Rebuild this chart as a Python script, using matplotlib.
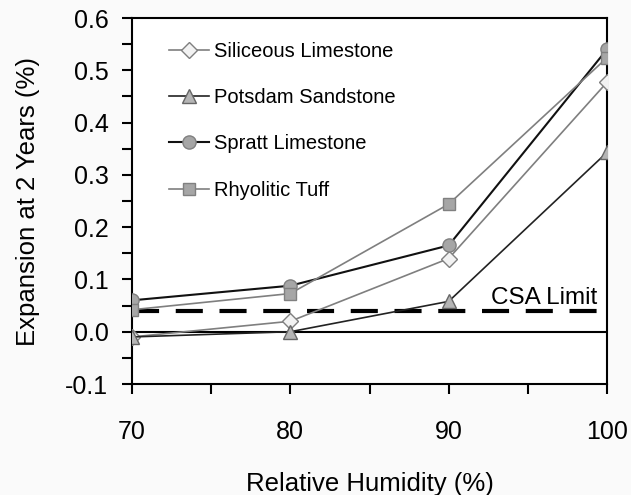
import numpy as np
import matplotlib
matplotlib.use('Agg')
from matplotlib import pyplot as plt

plt.rcParams['font.family'] = ['Liberation Sans', 'DejaVu Sans']

# data
humidity = [70, 80, 90, 100]
siliceous = [-0.01, 0.02, 0.14, 0.477]
potsdam = [-0.01, 0.0, 0.058, 0.343]
spratt = [0.06, 0.088, 0.165, 0.54]
rhyolitic = [0.042, 0.073, 0.244, 0.524]
csa_limit = 0.04

series_names = ['Siliceous Limestone', 'Potsdam Sandstone', 'Spratt Limestone', 'Rhyolitic Tuff']

x_ticks = [70, 75, 80, 85, 90, 95, 100]
x_labels = ['70', '', '80', '', '90', '', '100']
y_ticks = [-0.1, -0.05, 0.0, 0.05, 0.1, 0.15, 0.2, 0.25, 0.3, 0.35, 0.4, 0.45, 0.5, 0.55, 0.6]
y_labels = ['-0.1', '', '0.0', '', '0.1', '', '0.2', '', '0.3', '', '0.4', '', '0.5', '', '0.6']

fig = plt.figure(figsize=(6.31, 4.95), dpi=100, facecolor='#fafafa')
ax = fig.add_axes([132 / 631, 1 - 384 / 495, (607 - 132) / 631, (384 - 18) / 495])
ax.set_facecolor('white')

# reference lines
ax.axhline(0, color='black', lw=1.5, zorder=1)
ax.axhline(csa_limit, color='black', lw=3, dashes=(6.5, 4), zorder=1)
ax.text(99.4, csa_limit + 0.004, 'CSA Limit', ha='right', va='bottom', fontsize=17.5)

# series
ax.plot(humidity, siliceous, color='#7f7f7f', lw=1.2, marker='D', ms=8,
        mfc='#f2f2f2', mec='#7f7f7f', mew=1, label=series_names[0], zorder=3)
ax.plot(humidity, potsdam, color='#222222', lw=1.2, marker='^', ms=10.5,
        mfc='#b5b5b5', mec='#666666', mew=1, label=series_names[1], zorder=3)
ax.plot(humidity, spratt, color='#111111', lw=1.5, marker='o', ms=9.5,
        mfc='#a6a6a6', mec='#808080', mew=1, label=series_names[2], zorder=3)
ax.plot(humidity, rhyolitic, color='#7f7f7f', lw=1.2, marker='s', ms=8,
        mfc='#a6a6a6', mec='#808080', mew=1, label=series_names[3], zorder=3)

ax.set_xlim(70, 100)
ax.set_ylim(-0.1, 0.6)
ax.set_xticks(x_ticks)
ax.set_xticklabels(x_labels)
ax.set_yticks(y_ticks)
ax.set_yticklabels(y_labels)
ax.tick_params(direction='out', length=7, width=1.5, labelsize=18, pad=10)
ax.tick_params(axis='x', pad=19)
for sp in ax.spines.values():
    sp.set_linewidth(1.5)

ax.set_xlabel('Relative Humidity (%)', fontsize=18.5, labelpad=20)
ax.set_ylabel('Expansion at 2 Years (%)', fontsize=18.5, labelpad=18)

ax.legend(loc='upper left', bbox_to_anchor=(169 / 631, 1 - 42 / 495),
          bbox_transform=fig.transFigure, frameon=False, fontsize=14.5,
          handlelength=2.0, handletextpad=0.25, labelspacing=1.35,
          borderpad=0, borderaxespad=0)

fig.savefig('out.png', dpi=100, facecolor=fig.get_facecolor())
